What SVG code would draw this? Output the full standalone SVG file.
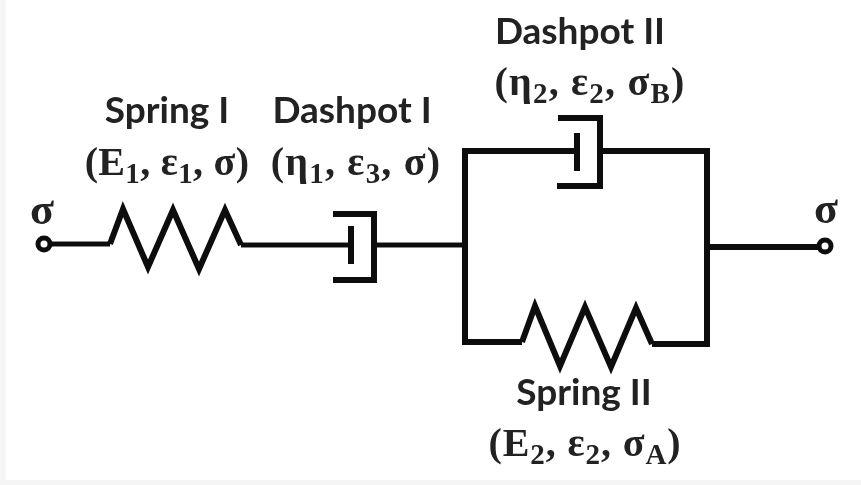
<svg xmlns="http://www.w3.org/2000/svg" width="861" height="485" viewBox="0 0 861 485">
<style>
.w{fill:none;stroke:#111;stroke-width:5;stroke-linejoin:miter;stroke-linecap:butt}
.t{fill:none;stroke:#111;stroke-width:6;stroke-linejoin:miter;stroke-linecap:butt}
.n{font-family:Lato,"Liberation Sans",sans-serif;font-weight:700;font-size:37px;fill:#222;text-anchor:middle}
.m{font-family:"Liberation Serif",serif;font-weight:700;font-size:40px;fill:#222;text-anchor:middle}
.g{font-size:44px}
.s{font-size:29px}
</style>
<defs><filter id="soft" x="-2%" y="-2%" width="104%" height="104%"><feGaussianBlur stdDeviation="0.7"/></filter></defs>
<rect width="861" height="485" fill="#f5f5f5"/>
<rect x="6" y="0" width="855" height="480" fill="#fff"/>
<g filter="url(#soft)">
<g id="connectors">
<path class="w" d="M50 244H110"/>
<path class="w" d="M241 245H351"/>
<path class="w" d="M373 245H465"/>
<path class="t" d="M577 151H465V342H522"/>
<path class="t" d="M652 344H707V151H600"/>
<path class="t" d="M707 247H819"/>
</g>
<g id="terminal-left"><circle cx="44" cy="244" r="6" fill="#fff" stroke="#111" stroke-width="5"/><text class="m g" x="42" y="224">σ</text></g>
<g id="spring-1"><path class="t" d="M110 244L123 209L148 267L173 210L199 269L225 210L241 245"/>
<text class="n" x="167" y="123">Spring I</text>
<text class="m" x="167" y="175" letter-spacing="0.3">(E<tspan class="s" dy="8">1</tspan><tspan dy="-8">, ε</tspan><tspan class="s" dy="8">1</tspan><tspan dy="-8">, σ)</tspan></text></g>
<g id="dashpot-1"><path class="t" d="M333 214H374V280H333"/><path class="t" d="M351 226V264"/>
<text class="n" x="352" y="123">Dashpot I</text>
<text class="m" x="356" y="175" letter-spacing="1.2">(η<tspan class="s" dy="8">1</tspan><tspan dy="-8">, ε</tspan><tspan class="s" dy="8">3</tspan><tspan dy="-8">, σ)</tspan></text></g>
<g id="dashpot-2"><path class="t" d="M558 118H600V186H557"/><path class="t" d="M577 133V171"/>
<text class="n" x="580" y="44">Dashpot II</text>
<text class="m" x="590" y="95" letter-spacing="1.2">(η<tspan class="s" dy="8">2</tspan><tspan dy="-8">, ε</tspan><tspan class="s" dy="8">2</tspan><tspan dy="-8">, σ</tspan><tspan class="s" dy="8">B</tspan><tspan dy="-8">)</tspan></text></g>
<g id="spring-2"><path class="t" d="M522 342L535 306L560 366L585 307L611 367L636 308L652 344"/>
<text class="n" x="584" y="405">Spring II</text>
<text class="m" x="585" y="456" letter-spacing="0.9">(E<tspan class="s" dy="8">2</tspan><tspan dy="-8">, ε</tspan><tspan class="s" dy="8">2</tspan><tspan dy="-8">, σ</tspan><tspan class="s" dy="8">A</tspan><tspan dy="-8">)</tspan></text></g>
<g id="terminal-right"><circle cx="825" cy="246" r="6" fill="#fff" stroke="#111" stroke-width="5"/><text class="m g" x="826" y="223">σ</text></g>
</g>
</svg>
